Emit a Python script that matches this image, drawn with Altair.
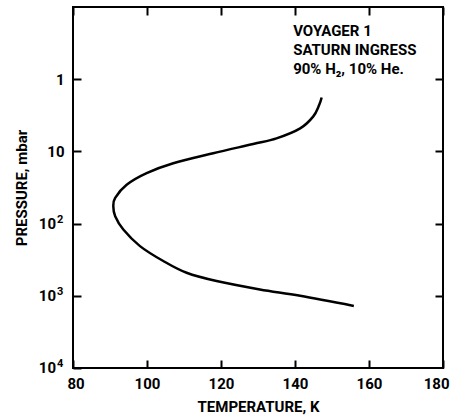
import altair as alt
import pandas as pd

# Temperature profile
temperature = [147.2, 146.5, 144.9, 141.4, 135.0, 128.7, 117.9, 107.1, 99.9, 94.5,
               91.4, 90.9, 91.4, 93.6, 98.1, 104.4, 110.7, 118.8, 130.5, 141.4, 155.9]
pressure = [1.79, 2.3, 3.3, 4.8, 6.6, 7.9, 10.6, 14.6, 20, 29,
            44, 58, 79, 121, 205, 330, 480, 625, 817, 1000, 1380]

x_ticks = [80, 100, 120, 140, 160, 180]
y_ticks = [1, 10, 100, 1000, 10000]
inner_y_ticks = [1, 10, 100, 1000]

# 10^n tick labels (base and exponent)
pow_base = ["10", "10", "10"]
exp_text = ["2", "3", "4"]
exp_p = [100, 1000, 10000]
exp_t = [80, 80, 80]

note_lines = ["VOYAGER 1", "SATURN INGRESS", "90% H\u2082, 10% He."]
note_x = [139.5, 139.5, 139.5]
note_p = [0.255, 0.467, 0.86]

profile = pd.DataFrame({"T": temperature, "P": pressure, "idx": list(range(len(temperature)))})
notes = pd.DataFrame({"text": note_lines, "T": note_x, "P": note_p})
exps = pd.DataFrame({"base": pow_base, "text": exp_text, "T": exp_t, "P": exp_p})

FONT = "Roboto"
FW = "bold"
FS = 15

xscale = alt.Scale(domain=[80, 180], nice=False, zero=False)
yscale = alt.Scale(type="log", domain=[0.1, 10000], nice=False, reverse=True)

label_expr = "datum.value == 1 ? '1' : datum.value == 10 ? '10' : ''"

line = alt.Chart(profile).mark_line(color="black", strokeWidth=2.5, interpolate="cardinal").encode(
    x=alt.X("T:Q", scale=xscale, axis=alt.Axis(
        orient="bottom", values=x_ticks, title="TEMPERATURE, K", grid=False, domain=False,
        offset=-8, tickSize=8, tickWidth=2, tickColor="black", labelPadding=8,
        labelFlush=True, labelFlushOffset=6, labelOverlap=False, labelFont=FONT,
        labelFontSize=FS, labelFontWeight=FW,
        labelColor="black", titleFont=FONT, titleFontSize=FS, titleFontWeight=FW,
        titleColor="black", titlePadding=8)),
    y=alt.Y("P:Q", scale=yscale, axis=alt.Axis(
        orient="left", values=y_ticks, labelExpr=label_expr, title="PRESSURE,  mbar", grid=False,
        domain=False, offset=-8, tickSize=8, tickWidth=2, tickColor="black", labelPadding=9,
        labelFlush=False, labelOverlap=False, labelFont=FONT, labelFontSize=FS,
        labelFontWeight=FW,
        labelColor="black", titleFont=FONT, titleFontSize=FS, titleFontWeight=FW,
        titleColor="black", titlePadding=17)),
    order="idx:O",
)

text = alt.Chart(notes).mark_text(align="left", baseline="alphabetic", font=FONT,
                                   fontSize=FS, fontWeight=FW, color="black").encode(
    x=alt.X("T:Q", scale=xscale, axis=alt.Axis(
        orient="top", values=x_ticks, labels=False, title=None, grid=False, domain=False,
        offset=-8, tickSize=8, tickWidth=2, tickColor="black")),
    y=alt.Y("P:Q", scale=yscale, axis=alt.Axis(
        orient="right", values=inner_y_ticks, labels=False, title=None, grid=False, domain=False,
        offset=-8, tickSize=8, tickWidth=2, tickColor="black")),
    text="text:N",
)

base = alt.Chart(exps).mark_text(align="right", baseline="middle", font=FONT,
                                 fontSize=FS, fontWeight=FW, color="black", dx=-17).encode(
    x=alt.X("T:Q", scale=xscale, axis=None),
    y=alt.Y("P:Q", scale=yscale, axis=None),
    text="base:N",
)

sup = alt.Chart(exps).mark_text(align="left", baseline="alphabetic", font=FONT,
                                fontSize=11, fontWeight=FW, color="black", dx=-16, dy=-1).encode(
    x=alt.X("T:Q", scale=xscale, axis=None),
    y=alt.Y("P:Q", scale=yscale, axis=None),
    text="text:N",
)

chart = alt.layer(line, text, base, sup).resolve_axis(x="independent", y="independent").properties(
    width=370, height=361,
    autosize=alt.AutoSizeParams(type="none"),
    padding={"left": 73, "top": 7, "right": 9, "bottom": 51},
    background="white",
).configure_view(stroke="black", strokeWidth=2)

chart.save("out.html", embed_options={"renderer": "svg", "actions": False})
